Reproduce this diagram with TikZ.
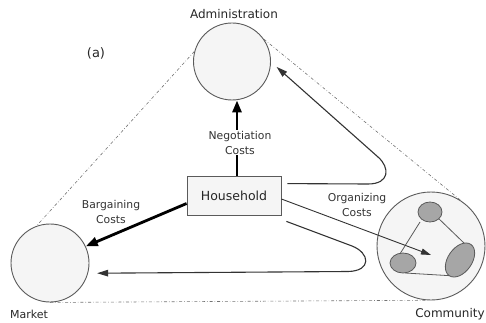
\documentclass[tikz,border=0pt]{standalone}
\usepackage{fontspec}
\setmainfont{DejaVu Sans}
\usetikzlibrary{arrows.meta, positioning}

\definecolor{linegray}{HTML}{5A5A5A}

\begin{document}
\begin{tikzpicture}[x=1pt, y=-1pt,
  agent/.style={circle, draw=linegray, line width=0.9pt, fill=black!4, inner sep=0pt},
  costarrow/.style={line width=2.8pt, -{Triangle[length=12pt,width=9pt]}},
  backarrow/.style={line width=1.1pt, draw=black!80, -{Triangle[length=11pt,width=6.5pt]}},
  frame/.style={black!55, line width=0.6pt, dash dot},
  lbl/.style={text=black!85, font=\fontsize{12}{14}\selectfont},
  costlbl/.style={text=black!80, align=center, font=\fontsize{10.8}{15}\selectfont}]
\useasboundingbox (0,0) rectangle (486,323);
% the three institutions
\node[agent, minimum size=77pt] (adm) at (232,61.5) {};
\node[agent, minimum size=78pt] (mkt) at (50,263) {};
\node[agent, minimum size=108pt] (com) at (431,246) {};
\node[lbl] (admlbl) at (234,14) {Administration};
\node[lbl, font=\fontsize{11}{13}\selectfont] (mktlbl) at (29,314) {Market};
\node[lbl] (comlbl) at (450,314) {Community};
\node[lbl, font=\fontsize{13}{15}\selectfont] (tag) at (96,53) {(a)};
% dotted triangle
\draw[frame] (adm.165) -- (mkt.110);
\draw[frame] (adm.35) -- (com.57);
\draw[frame] (mkt.-90) -- (com.-95);
% members inside the community
\draw[linegray, line width=0.8pt] (420,222) -- (398,257);
\draw[linegray, line width=0.8pt] (436,216) -- (465,244);
\draw[linegray, line width=0.8pt] (405,273) -- (455,276);
\draw[linegray, line width=0.8pt, fill=black!35] (430,212) ellipse [x radius=12, y radius=10];
\draw[linegray, line width=0.8pt, fill=black!35] (403,263) ellipse [x radius=13, y radius=10];
\draw[linegray, line width=0.8pt, fill=black!35] (460,260) ellipse [x radius=19, y radius=12, rotate=55];
% household
\node[lbl, draw=linegray, line width=0.8pt, fill=black!4, minimum width=94pt, minimum height=39pt,
      font=\fontsize{12.5}{14}\selectfont] (hh) at (234,195.5) {Household};
% costs
\draw[costarrow] ([xshift=3pt]hh.north) -- ([xshift=5pt]adm.south);
\draw[costarrow] ([yshift=-8pt]hh.west) -- (mkt.25);
\coordinate (cominner) at (431,255);
\draw[backarrow, line width=0.9pt, -{Triangle[length=10pt,width=6pt]}] ([yshift=-3.5pt]hh.east) -- (cominner);
\draw[backarrow] ([xshift=6pt,yshift=-8pt]hh.north east) -- (368,184)
  .. controls (390,184) and (390,167.5) .. (378,157) -- ([xshift=6pt]adm.-8);
\draw[backarrow] ([xshift=5pt,yshift=-6pt]hh.south east) -- (352,246)
  .. controls (370,253) and (372,271) .. (348,271.5) -- ([xshift=9pt]mkt.-15);
\node[costlbl, fill=white, inner sep=0.5pt] (neglbl) at (240,142.5) {Negotiation\\Costs};
\node[costlbl] (barlbl) at (111,211.5) {Bargaining\\Costs};
\node[costlbl] (orglbl) at (357,205) {Organizing\\Costs};
\end{tikzpicture}
\end{document}
